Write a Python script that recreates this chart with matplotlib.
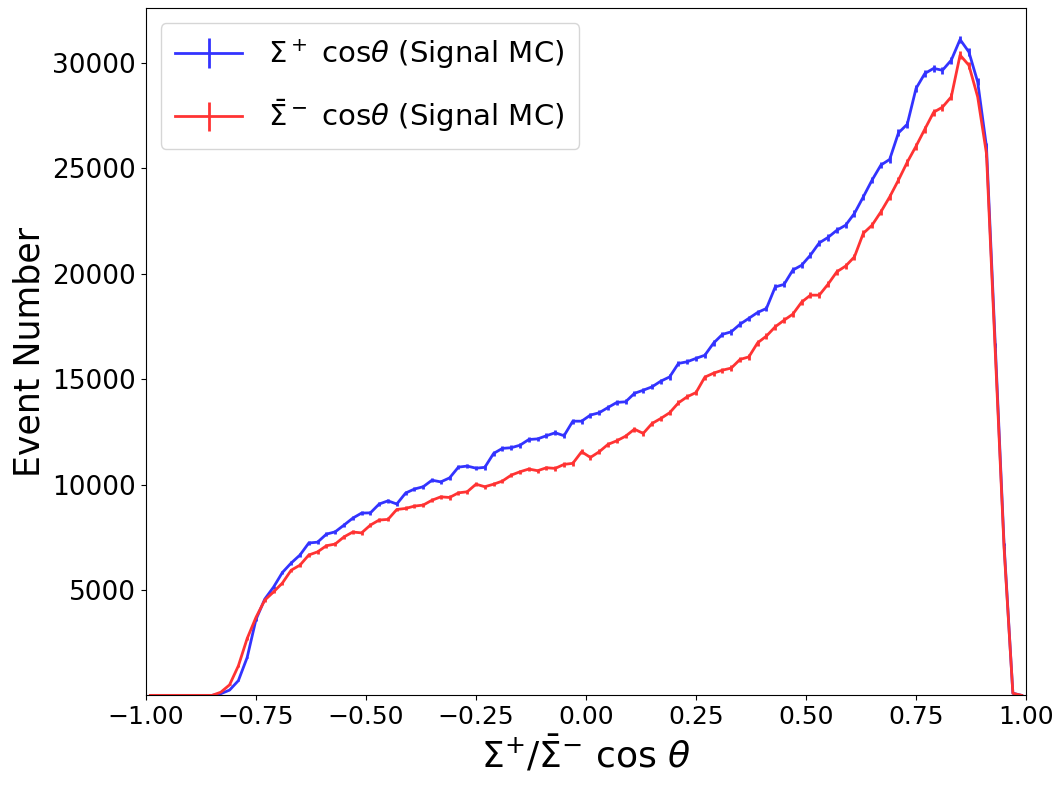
import numpy as np
import matplotlib
matplotlib.use("Agg")
import matplotlib.pyplot as plt

# bin centres of the cos(theta) histogram (100 bins on [-1, 1])
bin_edges = np.linspace(-1, 1, 101)
centers = 0.5 * (bin_edges[:-1] + bin_edges[1:])

# Sigma+ counts
sigma_plus = [
    0, 0, 0, 0, 0, 0, 0, 0, 80, 250,
    700, 1800, 3600, 4570, 5140, 5830, 6280, 6660, 7230, 7270,
    7650, 7760, 8080, 8410, 8650, 8660, 9080, 9230, 9080, 9600,
    9790, 9900, 10210, 10130, 10320, 10830, 10880, 10780, 10820, 11480,
    11720, 11750, 11870, 12140, 12170, 12320, 12460, 12320, 13010, 13010,
    13300, 13410, 13660, 13900, 13930, 14330, 14480, 14640, 14910, 15110,
    15750, 15830, 15990, 16140, 16720, 17130, 17250, 17610, 17890, 18170,
    18360, 19380, 19500, 20180, 20410, 20890, 21470, 21730, 22070, 22310,
    22870, 23650, 24450, 25160, 25430, 26690, 27100, 28800, 29510, 29750,
    29660, 30140, 31120, 30530, 29110, 26030, 16600, 7150, 100, 0,
]

# anti-Sigma- counts
sigma_bar_minus = [
    0, 0, 0, 0, 0, 0, 0, 0, 150, 500,
    1400, 2700, 3700, 4520, 4910, 5330, 5940, 6180, 6660, 6810,
    7100, 7180, 7520, 7750, 7710, 8080, 8320, 8350, 8820, 8870,
    8980, 9030, 9260, 9420, 9390, 9610, 9660, 10020, 9900, 10020,
    10170, 10450, 10610, 10740, 10660, 10800, 10770, 10960, 11010, 11560,
    11290, 11560, 11910, 12080, 12300, 12630, 12430, 12900, 13140, 13410,
    13880, 14170, 14370, 15100, 15290, 15430, 15530, 15940, 16060, 16730,
    17050, 17490, 17800, 18090, 18660, 18990, 18990, 19510, 20100, 20370,
    20810, 21920, 22310, 22940, 23650, 24450, 25300, 26060, 26870, 27670,
    27910, 28400, 30380, 29900, 28400, 25710, 16300, 7000, 100, 0,
]

sigma_plus = np.array(sigma_plus, dtype=float)
sigma_bar_minus = np.array(sigma_bar_minus, dtype=float)

fig = plt.figure(figsize=(10.6, 7.92), dpi=100)
ax = fig.add_axes([0.1377, 0.122, 0.8303, 0.8675])

# opaque colours equal to blue/red at alpha 0.8 on white, so error bars don't darken the line
ax.errorbar(centers, sigma_plus, yerr=np.sqrt(sigma_plus), color="#3333ff",
            lw=2, elinewidth=2,
            label=r"$\Sigma^+$ cos$\theta$ (Signal MC)")
ax.errorbar(centers, sigma_bar_minus, yerr=np.sqrt(sigma_bar_minus), color="#ff3333",
            lw=2, elinewidth=2,
            label=r"$\bar{\Sigma}^-$ cos$\theta$ (Signal MC)")

ax.set_xlim(-1, 1)
ax.set_ylim(0, 32600)
ax.set_xticks(np.arange(-1, 1.01, 0.25))
ax.set_yticks(np.arange(5000, 30001, 5000))
ax.tick_params(axis="x", labelsize=18)
ax.tick_params(axis="y", labelsize=19)

ax.set_xlabel(r"$\Sigma^{+}/\bar{\Sigma}^{-}$ cos $\theta$", fontsize=26)
ax.set_ylabel("Event Number", fontsize=25)

leg = ax.legend(loc="upper left", fontsize=21, handlelength=2.3,
                handletextpad=0.9, labelspacing=0.9, borderpad=0.5)

fig.savefig("out.png", dpi=100)
